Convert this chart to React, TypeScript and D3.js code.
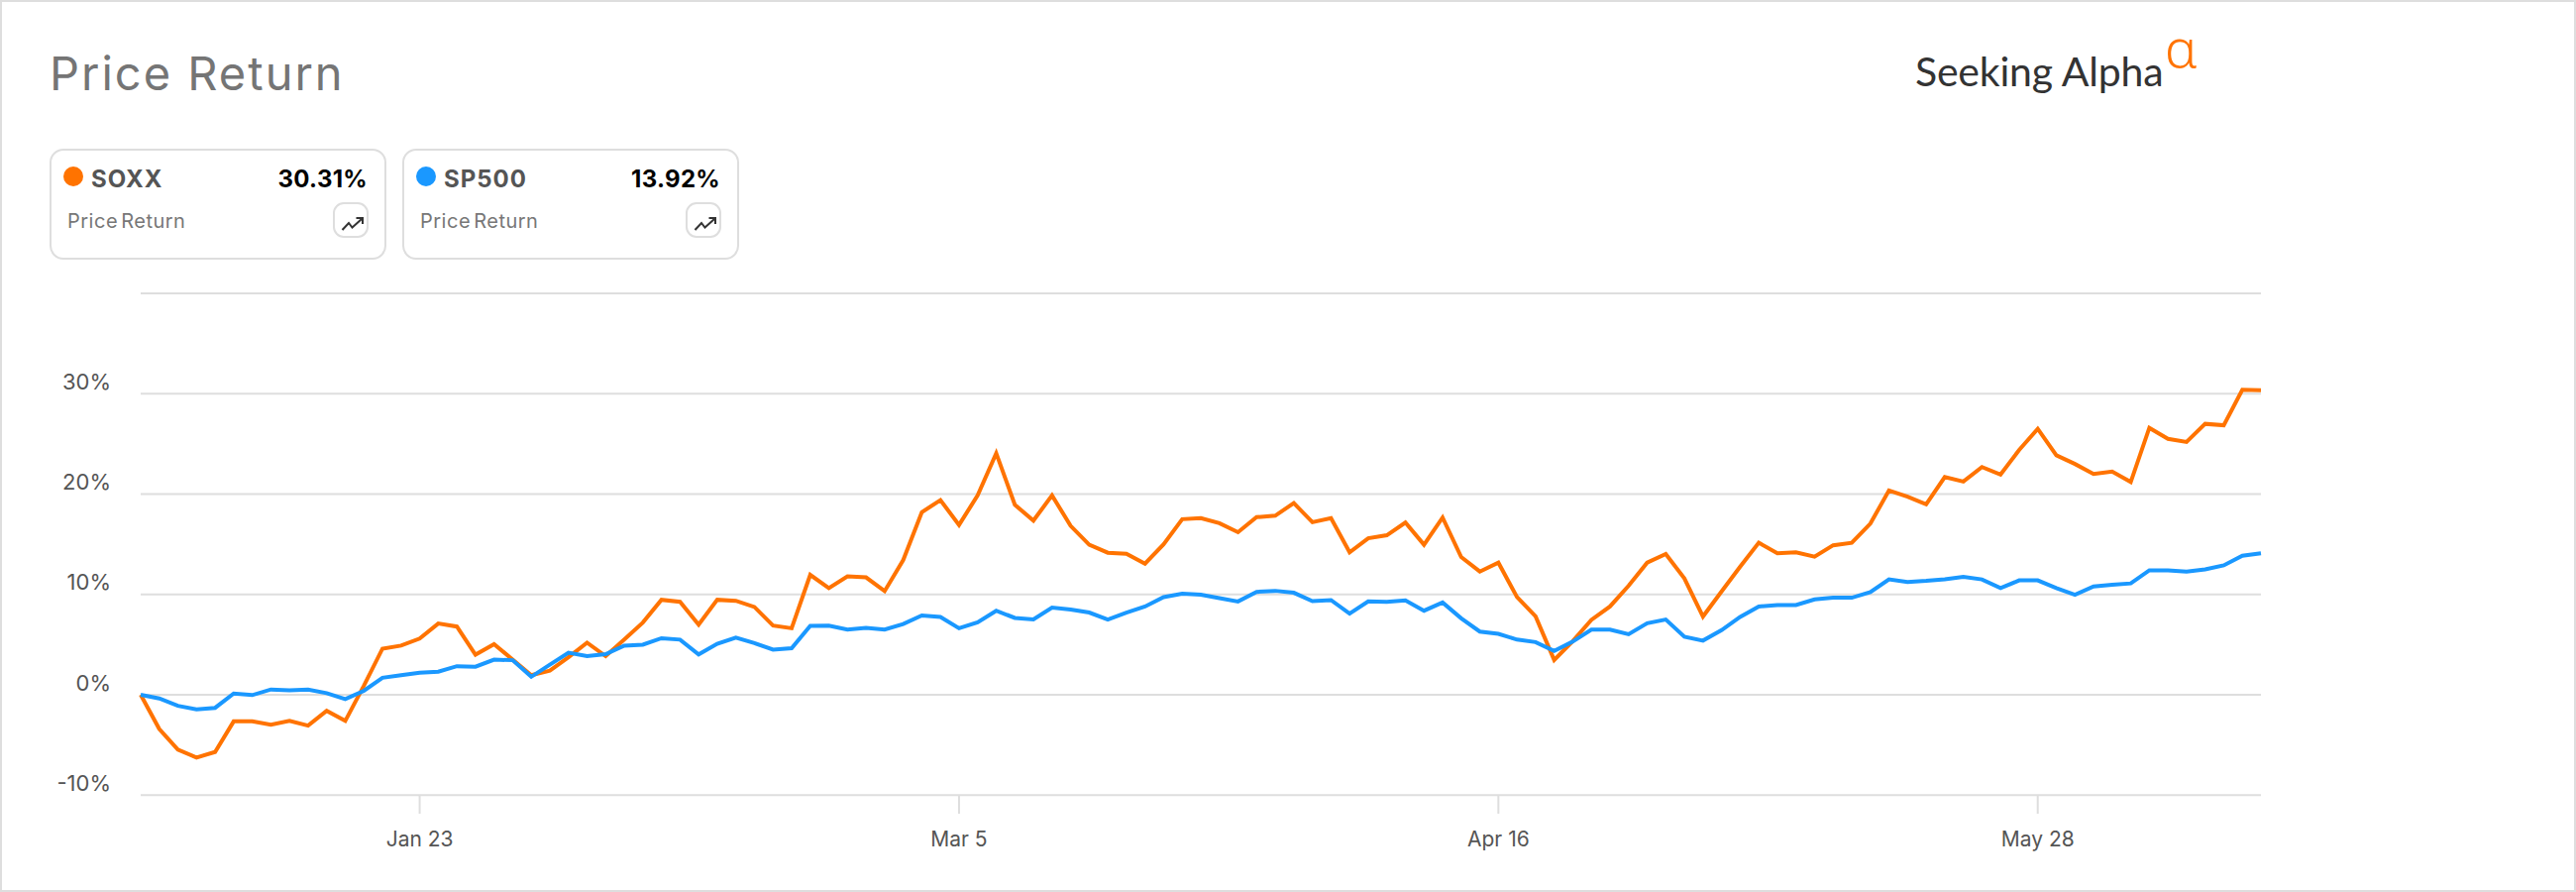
import React from 'react';
import * as d3 from 'd3';

const soxx = [
  0, -3.4, -5.45, -6.25, -5.7, -2.65, -2.65, -2.97, -2.6, -3.07,
  -1.6, -2.6, 0.9, 4.6, 4.9, 5.6, 7.1, 6.8, 4.0, 5.05,
  3.5, 1.95, 2.4, 3.75, 5.2, 3.85, 5.5, 7.2, 9.47, 9.27,
  7.0, 9.47, 9.37, 8.75, 6.9, 6.63, 11.95, 10.63, 11.8, 11.7,
  10.33, 13.43, 18.2, 19.4, 16.93, 19.87, 24.06, 18.94, 17.36, 19.87,
  16.83, 14.95, 14.16, 14.06, 13.07, 15.0, 17.5, 17.6, 17.1, 16.2,
  17.7, 17.85, 19.1, 17.2, 17.6, 14.2, 15.6, 15.9, 17.16, 14.95,
  17.66, 13.73, 12.28, 13.17, 9.74, 7.82, 3.47, 5.35, 7.46, 8.8,
  10.86, 13.17, 14.03, 11.6, 7.8, 10.3, 12.77, 15.15, 14.1, 14.2,
  13.76, 14.9, 15.15, 17.06, 20.36, 19.74, 18.98, 21.7, 21.25, 22.7,
  21.95, 24.4, 26.5, 23.86, 23.0, 22.0, 22.24, 21.2, 26.6, 25.5,
  25.2, 27.0, 26.86, 30.4, 30.35,
];

const sp500 = [
  0, -0.36, -1.1, -1.45, -1.3, 0.13, -0.03, 0.53, 0.46, 0.53,
  0.17, -0.43, 0.4, 1.7, 1.95, 2.2, 2.3, 2.85, 2.8, 3.5,
  3.45, 1.8, 3.0, 4.2, 3.85, 4.05, 4.9, 5.0, 5.64, 5.5,
  4.03, 5.08, 5.7, 5.15, 4.5, 4.65, 6.86, 6.9, 6.5, 6.67,
  6.5, 7.06, 7.9, 7.76, 6.63, 7.23, 8.38, 7.66, 7.52, 8.7,
  8.5, 8.2, 7.5, 8.18, 8.8, 9.74, 10.07, 9.97, 9.64, 9.3,
  10.26, 10.36, 10.17, 9.34, 9.44, 8.09, 9.3, 9.27, 9.4, 8.38,
  9.2, 7.62, 6.3, 6.07, 5.5, 5.25, 4.36, 5.3, 6.5, 6.5,
  6.04, 7.13, 7.5, 5.78, 5.4, 6.44, 7.76, 8.8, 8.94, 8.94,
  9.5, 9.67, 9.67, 10.23, 11.5, 11.25, 11.35, 11.5, 11.75, 11.5,
  10.63, 11.4, 11.4, 10.63, 9.97, 10.8, 10.96, 11.1, 12.4, 12.4,
  12.28, 12.5, 12.9, 13.86, 14.1,
];

const gridValues = [-10, 0, 10, 20, 30, 40];
const yTickLabels = ['-10%', '0%', '10%', '20%', '30%', ''];
const xTickIndex = [15, 44, 73, 102];
const xTickLabels = ['Jan 23', 'Mar 5', 'Apr 16', 'May 28'];
const tickers = ['SOXX', 'SP500'];
const returns = ['30.31%', '13.92%'];
const colors = ['#ff7300', '#1a98ff'];

const width = 2600;
const height = 900;
const font = 'Inter, "Noto Sans", sans-serif';
const gridColor = '#dedede';

const x = d3.scaleLinear().domain([0, soxx.length - 1]).range([142, 2282]);
const y = d3.scaleLinear().domain([-10, 40]).range([802.3, 296]);

const line = d3.line<number>()
  .x((d, i) => x(i))
  .y(d => y(d));

// one legend box, the second is just shifted right
const Card = ({ left, ticker, value, color }) => (
  <g transform={`translate(${left},151)`}>
    <rect width={338} height={110} rx={13} fill="#fff" stroke={gridColor} strokeWidth={2} />
    <circle cx={23} cy={27} r={10} fill={color} />
    <text x={41} y={38} fontSize={24} fontWeight={700} letterSpacing={1} fill="#555">{ticker}</text>
    <text x={320} y={38} fontSize={24} fontWeight={700} textAnchor="end" letterSpacing={0.3} fill="#000">{value}</text>
    <text x={17} y={79} fontSize={20} wordSpacing={-3} letterSpacing={0.5} fill="#777">Price Return</text>
    <rect x={286} y={54} width={34} height={34} rx={10} fill="#fff" stroke={gridColor} strokeWidth={2} />
    <path d="M294.5 81 L301 74 L304.5 78.5 L314 70 M308.5 69 L315 69 L315 75" fill="none" stroke="#333" strokeWidth={2} />
  </g>
);

const App = () => (
  <svg width={width} height={height} style={{ position: 'absolute', left: 0, top: 0, display: 'block', background: '#fff' }} fontFamily={font}>
    <rect x={1} y={1} width={width - 2} height={height - 2} fill="#fff" stroke={gridColor} strokeWidth={2} />

    <text x={50} y={91} fontSize={47} letterSpacing={2} fill="#757575">Price Return</text>

    <text x={1933} y={87} fontSize={41} letterSpacing={-0.2} fontFamily="Lato, sans-serif" fill="#333">Seeking Alpha</text>
    <text x={2185} y={68} fontSize={54} fontWeight={300} fontFamily="'Noto Sans', sans-serif" fill="#ff7300">α</text>

    {tickers.map((t, i) => (
      <Card key={t} left={51 + i * 356} ticker={t} value={returns[i]} color={colors[i]} />
    ))}

    {gridValues.map(v => (
      <line key={v} x1={x.range()[0]} x2={x.range()[1]} y1={y(v)} y2={y(v)} stroke={gridColor} strokeWidth={2} />
    ))}
    {gridValues.map((v, i) => (
      <text key={v} x={112} y={y(v) - 4.5} fontSize={22} textAnchor="end" fill="#555">{yTickLabels[i]}</text>
    ))}

    {xTickIndex.map((t, i) => (
      <g key={t}>
        <line x1={x(t)} x2={x(t)} y1={y(-10)} y2={821} stroke={gridColor} strokeWidth={2} />
        <text x={x(t)} y={854} fontSize={21} textAnchor="middle" fill="#555">{xTickLabels[i]}</text>
      </g>
    ))}

    <path d={line(soxx)} fill="none" stroke={colors[0]} strokeWidth={4} />
    <path d={line(sp500)} fill="none" stroke={colors[1]} strokeWidth={4} />
  </svg>
);

export default App;
